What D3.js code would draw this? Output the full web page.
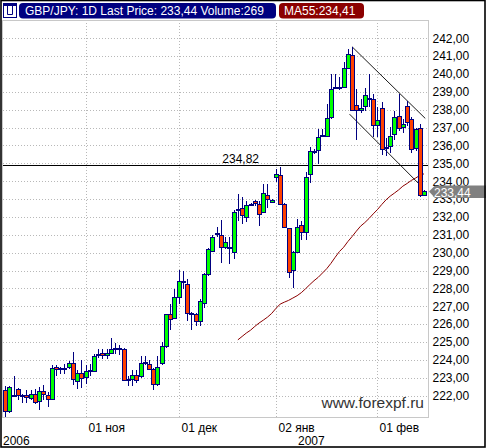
<!DOCTYPE html>
<html><head><meta charset="utf-8">
<script src="https://cdn.jsdelivr.net/npm/d3@7"></script>
<style>
html,body{margin:0;padding:0;background:#fff;}
svg{display:block;font-family:Arial,"Liberation Sans",sans-serif;}
</style></head><body>
<svg id="c" width="486" height="448"></svg>
<script>
// ---- data (daily bars, index 0..99) ----
const open = [
222.30,221.12,222.02,222.39,222.02,222.06,221.87,222.11,221.68,222.28,
222.06,221.83,223.60,223.51,223.51,223.62,223.85,222.84,223.29,223.06,
223.40,223.40,224.33,224.41,224.26,224.41,224.67,224.63,224.63,222.93,
222.93,223.16,223.10,223.82,223.77,223.47,222.63,223.80,224.76,226.54,
226.35,227.54,228.38,228.25,226.60,226.54,226.20,227.17,228.81,230.08,
231.10,231.00,230.34,230.30,230.03,232.44,232.50,232.01,232.68,232.87,
232.72,232.29,233.22,232.83,234.21,234.36,232.72,231.37,229.02,230.05,
231.54,231.17,234.40,235.66,235.75,236.54,236.55,237.58,239.26,239.26,
239.26,240.35,241.04,238.28,237.96,238.18,238.61,238.61,237.12,238.11,
235.90,235.94,236.65,237.62,237.03,238.18,237.50,235.87,237.00,233.25];
const high = [
222.52,222.56,223.08,222.45,222.11,222.34,222.30,222.39,222.49,222.58,
222.20,223.70,223.70,223.60,223.75,223.94,224.44,223.42,224.01,223.70,
223.75,224.35,224.63,224.63,224.59,225.25,224.95,224.82,224.67,223.08,
223.42,223.42,224.20,224.20,224.00,223.52,224.20,225.00,226.58,227.13,
227.97,229.04,229.00,228.53,226.67,226.60,227.41,228.85,230.25,230.96,
231.43,231.85,230.85,230.87,232.40,233.28,233.09,232.90,232.80,232.95,
232.90,233.84,233.84,233.00,234.68,234.82,232.75,231.40,230.10,231.86,
231.79,234.50,235.90,235.80,236.93,236.93,238.33,240.00,240.00,239.82,
240.66,241.41,241.50,239.17,238.60,239.23,240.01,238.89,238.15,238.43,
236.40,237.03,237.90,238.90,237.50,238.50,237.60,237.00,237.20,233.50];
const low = [
220.81,221.03,221.93,221.74,221.59,221.59,221.74,221.55,221.22,221.74,
221.37,221.74,223.08,223.22,223.19,223.51,222.58,222.39,222.45,222.67,
223.08,223.32,224.13,224.03,224.07,224.35,224.35,224.29,222.82,222.52,
222.54,222.71,222.99,223.70,223.43,222.30,222.55,223.70,224.66,225.68,
226.30,227.13,227.97,226.16,225.68,225.87,225.92,226.91,228.72,230.03,
230.87,229.41,230.20,229.37,229.65,231.79,231.60,231.70,232.60,232.60,
231.50,232.20,232.50,232.78,233.95,232.70,231.40,228.60,228.01,229.98,
230.70,230.70,233.88,235.52,234.96,236.45,236.50,237.50,239.20,239.10,
239.20,240.30,237.90,236.28,237.80,237.90,238.15,236.47,236.47,235.44,
235.38,235.60,236.30,236.80,236.70,237.10,235.60,235.70,233.10,233.20];
const close = [
221.12,222.50,222.04,222.02,222.00,221.91,222.11,221.66,222.24,222.07,
221.83,223.57,223.51,223.52,223.53,223.85,222.95,223.29,223.01,223.40,
223.42,224.24,224.35,224.26,224.41,224.63,224.69,224.65,222.90,222.95,
223.16,222.90,223.85,223.86,223.47,222.63,223.62,224.78,226.54,226.30,
227.54,228.44,228.40,226.61,226.54,226.20,227.32,228.81,230.18,230.90,
231.12,230.34,230.62,230.28,232.30,232.46,232.12,232.66,232.70,232.76,
232.16,233.32,233.00,232.94,234.40,232.72,231.45,228.93,230.05,231.41,
231.17,234.21,235.71,235.68,236.46,236.56,237.54,239.17,239.28,239.28,
240.35,241.13,238.00,237.96,238.11,238.84,238.63,237.16,237.40,235.78,
235.92,236.50,237.59,236.97,237.21,237.31,235.78,236.93,233.25,233.44];
const maStart = 55;
const ma55 = [
225.12,225.31,225.50,225.66,225.87,226.06,226.22,226.39,226.60,226.88,
227.12,227.23,227.33,227.46,227.59,227.76,227.98,228.21,228.43,228.62,
228.86,229.10,229.40,229.74,230.06,230.30,230.62,230.90,231.20,231.48,
231.68,231.91,232.17,232.41,232.69,232.95,233.16,233.33,233.51,233.72,
233.87,234.04,234.17,234.32,234.41];
const trendUpper = [[82.0,241.52],[99.3,237.51]];
const trendLower = [[81.4,237.75],[98.1,233.78]];
const levelLine = 234.82;
const yTicks = d3.range(222, 243, 1);
const dateTickIdx = [19, 41, 64, 88];
const dateTickLabels = ["01 ноя", "01 дек", "02 янв", "01 фев"];
const yearLabels = ["2006", "2007"];
const symbol = "GBP/JPY", period = "1D", lastPrice = 233.44, volume = 269, maValue = 234.41;

// ---- drawing ----
const fmt = v => d3.format(".2f")(v).replace(".", ",");
const svg = d3.select("#c");
const W = 486, H = 448;
const P = {left:3, right:428, top:20, bottom:417};
const x = d3.scaleLinear().domain([0, 99]).range([5.2, 424.0]);
const y = d3.scaleLinear().domain([222, 242]).range([395.6, 38.2]);
const px = i => Math.round(x(i));

svg.append("rect").attr("width", W).attr("height", H).attr("fill", "#fff");

// grid
const grid = svg.append("g");
grid.selectAll("line.h").data(yTicks).join("line")
  .attr("x1", P.left).attr("x2", P.right)
  .attr("y1", d => Math.round(y(d)) + 0.5).attr("y2", d => Math.round(y(d)) + 0.5)
  .attr("stroke", "#b8b8b8").attr("stroke-dasharray", "1,2");
grid.selectAll("line.v").data(dateTickIdx).join("line")
  .attr("x1", d => px(d) + 0.5).attr("x2", d => px(d) + 0.5)
  .attr("y1", P.top).attr("y2", P.bottom)
  .attr("stroke", "#b8b8b8").attr("stroke-dasharray", "1,2");

// plot border
svg.append("rect").attr("x", P.left - 0.5).attr("y", P.top + 0.5)
  .attr("width", P.right - P.left + 1).attr("height", P.bottom - P.top)
  .attr("fill", "none").attr("stroke", "#c8c8c8");

// watermark
svg.append("text").attr("x", 424).attr("y", 408).attr("text-anchor", "end")
  .attr("font-size", "15.5px").attr("fill", "#333").text("www.forexpf.ru");

// MA line
svg.append("path")
  .datum(ma55.map((v, k) => ({i: maStart + k, v})))
  .attr("d", d3.line().x(d => x(d.i)).y(d => y(d.v)))
  .attr("fill", "none").attr("stroke", "#8b0000").attr("stroke-width", 1);

// level line
svg.append("line").attr("x1", P.left).attr("x2", P.right)
  .attr("y1", Math.round(y(levelLine)) - 1.5).attr("y2", Math.round(y(levelLine)) - 1.5)
  .attr("stroke", "#000").attr("stroke-width", 1);
svg.append("text").attr("x", px(60)).attr("y", Math.round(y(levelLine)) - 4)
  .attr("text-anchor", "end").attr("font-size", "12px").attr("fill", "#000").text(fmt(levelLine));

// trend lines
const tl = d3.line().x(d => x(d[0])).y(d => y(d[1]));
[trendUpper, trendLower].forEach(t => {
  svg.append("path").attr("d", tl(t)).attr("fill", "none")
    .attr("stroke", "#000").attr("stroke-width", 0.9);
});

// candles
const data = open.map((o, i) => ({i, o, h: high[i], l: low[i], c: close[i]}));
const cg = svg.append("g");
cg.selectAll("line").data(data).join("line")
  .attr("x1", d => px(d.i) + 0.5).attr("x2", d => px(d.i) + 0.5)
  .attr("y1", d => Math.round(y(d.h))).attr("y2", d => Math.round(y(d.l)))
  .attr("stroke", "#000080").attr("stroke-width", 1);
cg.selectAll("rect").data(data).join("rect")
  .attr("x", d => px(d.i) - 1.5).attr("width", 4)
  .attr("y", d => Math.round(y(Math.max(d.o, d.c))) + 0.5)
  .attr("height", d => Math.max(1, Math.round(y(Math.min(d.o, d.c))) - Math.round(y(Math.max(d.o, d.c)))))
  .attr("fill", d => d.c >= d.o ? "#00ff00" : "#ff4000")
  .attr("stroke", "#000080").attr("stroke-width", 1);

// right axis
const ya = svg.append("g").attr("transform", `translate(${P.right},0)`)
  .call(d3.axisRight(y).tickValues(yTicks).tickFormat(fmt).tickSize(0).tickPadding(4.5));
ya.select(".domain").remove();
ya.selectAll("text").attr("font-size", "12px").attr("fill", "#000")
  .attr("font-family", "Arial, 'Liberation Sans', sans-serif");

// last price marker (drawn over the axis labels, as in the original)
const ly = Math.round(y(lastPrice)) + 0.5;
svg.append("path")
  .attr("d", `M429,${ly} L435,${ly - 6} L486,${ly - 6} L486,${ly + 6.5} L435,${ly + 6.5} Z`)
  .attr("fill", "#808080");
svg.append("text").attr("x", 434).attr("y", ly + 5).attr("font-size", "12px")
  .attr("fill", "#fff").text(fmt(lastPrice));

// bottom axis (dates)
const xa = svg.append("g").attr("transform", `translate(0,${P.bottom})`)
  .call(d3.axisBottom(d3.scaleLinear().domain([0, 99]).range([x(0), x(99)]))
    .tickValues(dateTickIdx).tickFormat((d, k) => dateTickLabels[k]).tickSize(0).tickPadding(6));
xa.select(".domain").remove();
xa.selectAll(".tick").attr("transform", d => `translate(${px(d) + 0.5},0)`);
xa.selectAll("text").attr("text-anchor", "start").attr("x", 2)
  .attr("font-size", "12px").attr("fill", "#000")
  .attr("font-family", "Arial, 'Liberation Sans', sans-serif");

svg.append("text").attr("x", 3).attr("y", 445).attr("font-size", "12px").text(yearLabels[0]);
svg.append("text").attr("x", px(64) + 22).attr("y", 445).attr("font-size", "12px").text(yearLabels[1]);

// header
const hdr = svg.append("g");
hdr.append("rect").attr("x", 3.5).attr("y", 3.5).attr("width", 13).attr("height", 14)
  .attr("fill", "#fff").attr("stroke", "#000080");
hdr.append("rect").attr("x", 3.5).attr("y", 3.5).attr("width", 13).attr("height", 2.5).attr("fill", "#000080");
hdr.append("path").attr("d", "M7.5,6 V14.5 H12.5 V6").attr("fill", "none").attr("stroke", "#000080");
hdr.append("rect").attr("x", 19).attr("y", 3).attr("width", 257).attr("height", 15.5).attr("rx", 4)
  .attr("fill", "#000080");
hdr.append("text").attr("x", 25).attr("y", 15).attr("font-size", "12px").attr("fill", "#fff")
  .text(`${symbol}: ${period} Last Price: ${fmt(lastPrice)} Volume:${volume}`);
hdr.append("rect").attr("x", 279).attr("y", 3).attr("width", 85).attr("height", 15.5).attr("rx", 4)
  .attr("fill", "#8b0000");
hdr.append("text").attr("x", 284).attr("y", 15).attr("font-size", "12px").attr("fill", "#fff")
  .text(`MA55:${fmt(maValue)}`);

// outer frame
svg.append("rect").attr("x", 1).attr("y", 0.5).attr("width", 484).attr("height", 446.5)
  .attr("fill", "none").attr("stroke", "#000").attr("stroke-width", 1.6);
</script></body></html>
